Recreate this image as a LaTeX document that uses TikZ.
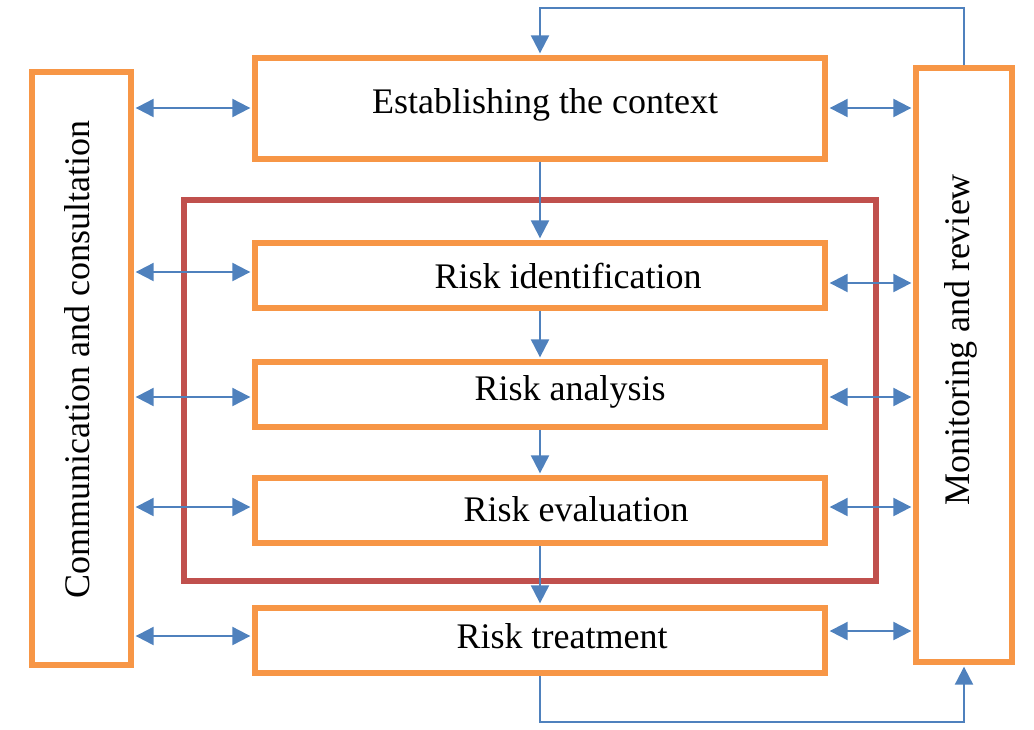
\documentclass[tikz,border=0pt]{standalone}
\usepackage{fontspec}
\setmainfont{Liberation Serif}
\usetikzlibrary{arrows.meta}
\definecolor{boxorange}{HTML}{F79646}
\definecolor{zonered}{HTML}{C0504D}
\definecolor{flowblue}{HTML}{4F81BD}
\tikzset{
  stagebox/.style = {draw=boxorange, line width=4pt, inner sep=0pt},
  stagetext/.style = {inner sep=0pt, font=\fontsize{27pt}{32pt}\selectfont},
  flow/.style = {draw=flowblue, line width=1.6pt, -{Triangle[length=13.5pt,width=13.5pt]}, shorten >=1.5pt},
  twoway/.style = {draw=flowblue, line width=1.6pt, {Triangle[length=13.5pt,width=13.5pt]}-{Triangle[length=13.5pt,width=13.5pt]}, shorten >=1.5pt, shorten <=1.5pt}
}
\begin{document}
\begin{tikzpicture}[x=0.75pt, y=-0.75pt]
    \useasboundingbox (0,0) rectangle (1034,729);
    % risk assessment frame
    \node[draw=zonered, line width=4pt, minimum width=519pt, minimum height=285.75pt] (assess) at (530,390.5) {};
    % side boxes
    \node[stagebox, minimum width=74.25pt, minimum height=444.75pt] (comm) at (81.5,368.5) {};
    \node[stagebox, minimum width=72pt, minimum height=445.5pt] (mon) at (964,365) {};
    \node[stagetext, rotate=90] (commtxt) at (77,360) {Communication and consultation};
    \node[stagetext, rotate=90] (montxt) at (961,340) {Monitoring and review};
    % stages
    \node[stagebox, minimum width=427.5pt, minimum height=75.75pt] (ctx) at (540,108.5) {};
    \node[stagebox, minimum width=427.5pt, minimum height=48.75pt] (rid) at (540,275.5) {};
    \node[stagebox, minimum width=427.5pt, minimum height=48.75pt] (ran) at (540,394.5) {};
    \node[stagebox, minimum width=427.5pt, minimum height=48.75pt] (rev) at (540,510.5) {};
    \node[stagebox, minimum width=427.5pt, minimum height=48.75pt] (rtr) at (540,640.5) {};
    \node[stagetext] (ctxtxt) at (545,105) {Establishing the context};
    \node[stagetext] (ridtxt) at (568,276) {Risk identification};
    \node[stagetext] (rantxt) at (570,392) {Risk analysis};
    \node[stagetext] (revtxt) at (576,509) {Risk evaluation};
    \node[stagetext] (rtrtxt) at (562,636) {Risk treatment};
    % main flow
    \draw[flow] (ctx.south) -- (rid.north);
    \draw[flow] (rid.south) -- (ran.north);
    \draw[flow] (ran.south) -- (rev.north);
    \draw[flow] (rev.south) -- (rtr.north);
    \draw[flow] (mon.north) -- ++(0,-57) -| (ctx.north);
    \draw[flow] (rtr.south) -- ++(0,46) -| (mon.south);
    % exchanges with the side boxes
    \draw[twoway] (comm.east |- 0,108) -- (ctx.west |- 0,108);
    \draw[twoway] (comm.east |- 0,272) -- (rid.west |- 0,272);
    \draw[twoway] (comm.east |- 0,397) -- (ran.west |- 0,397);
    \draw[twoway] (comm.east |- 0,507) -- (rev.west |- 0,507);
    \draw[twoway] (comm.east |- 0,636) -- (rtr.west |- 0,636);
    \draw[twoway] (ctx.east |- 0,108) -- (mon.west |- 0,108);
    \draw[twoway] (rid.east |- 0,283) -- (mon.west |- 0,283);
    \draw[twoway] (ran.east |- 0,397) -- (mon.west |- 0,397);
    \draw[twoway] (rev.east |- 0,507) -- (mon.west |- 0,507);
    \draw[twoway] (rtr.east |- 0,631) -- (mon.west |- 0,631);
\end{tikzpicture}
\end{document}
